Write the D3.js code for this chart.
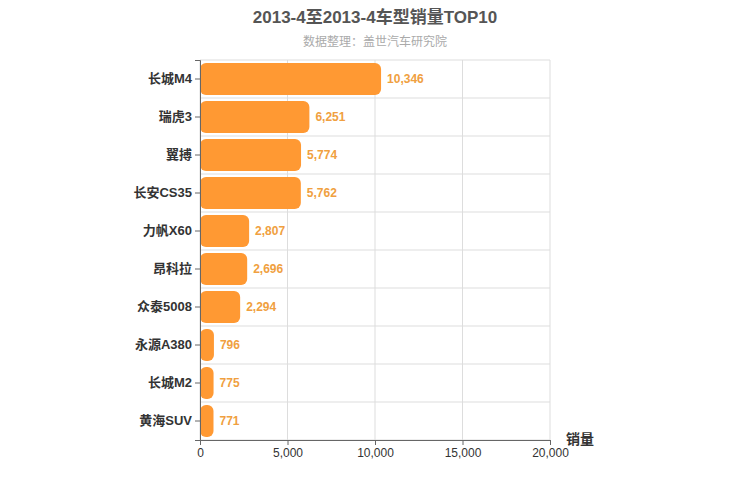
<!DOCTYPE html>
<html><head><meta charset="utf-8">
<script src="https://cdn.jsdelivr.net/npm/d3@7"></script>
<style>body{margin:0;} svg text{font-family:"Liberation Sans","Noto Sans CJK SC",sans-serif;}</style>
</head><body><svg id="chart" width="750" height="500"></svg>
<script>
const categories = ["长城M4","瑞虎3","翼搏","长安CS35","力帆X60","昂科拉","众泰5008","永源A380","长城M2","黄海SUV"];
const values = [10346,6251,5774,5762,2807,2696,2294,796,775,771];
const xTicks = [0,5000,10000,15000,20000];

const svg = d3.select("#chart");
const mLeft = 200, mRight = 550, mTop = 60, mBottom = 440;

const x = d3.scaleLinear().domain([0,20000]).range([mLeft,mRight]);
const y = d3.scaleBand().domain(categories).range([mTop,mBottom]).paddingInner(0.16).paddingOuter(0.08);
const fmt = d3.format(",");

// grid
svg.append("g").selectAll("line").data(xTicks).join("line")
    .attr("x1", d => x(d)).attr("x2", d => x(d)).attr("y1", mTop).attr("y2", mBottom)
    .attr("stroke", "#ddd");
const step = (mBottom - mTop) / categories.length;
svg.append("g").selectAll("line").data(d3.range(categories.length + 1)).join("line")
    .attr("x1", mLeft).attr("x2", mRight).attr("y1", i => mTop + i*step).attr("y2", i => mTop + i*step)
    .attr("stroke", "#ddd");

// bars
svg.append("g").selectAll("rect").data(values).join("rect")
    .attr("x", x(0)).attr("y", (d,i) => y(categories[i]))
    .attr("width", d => x(d) - x(0)).attr("height", y.bandwidth())
    .attr("rx", 6).attr("fill", "#ff9933");

svg.append("g").selectAll("text").data(values).join("text")
    .attr("x", d => x(d) + 6).attr("y", (d,i) => y(categories[i]) + y.bandwidth()/2)
    .attr("dy", "0.35em").attr("font-size", 12).attr("font-weight", "bold")
    .attr("fill", "#f0a040").text(d => fmt(d));

// axes
const yAxis = svg.append("g").attr("transform", `translate(${mLeft},0)`)
    .call(d3.axisLeft(y).tickSize(5));
yAxis.selectAll("text").attr("font-size", 13).attr("font-weight", "bold").attr("fill", "#333")
    .attr("font-family", null);
yAxis.select(".domain").attr("stroke", "#666");
yAxis.selectAll(".tick line").attr("stroke", "#666");

const xAxis = svg.append("g").attr("transform", `translate(0,${mBottom})`)
    .call(d3.axisBottom(x).tickValues(xTicks).tickFormat(fmt).tickSize(5));
xAxis.attr("font-family", null);
yAxis.attr("font-family", null);
xAxis.selectAll("text").attr("font-size", 12).attr("fill", "#333");
xAxis.select(".domain").attr("stroke", "#666");
xAxis.selectAll(".tick line").attr("stroke", "#666");

svg.append("text").attr("x", 580).attr("y", 444).attr("text-anchor", "middle")
    .attr("font-size", 14).attr("font-weight", "bold").attr("fill", "#333").text("销量");

svg.append("text").attr("x", 375).attr("y", 23).attr("text-anchor", "middle")
    .attr("font-size", 17).attr("font-weight", "bold").attr("fill", "#555").text("2013-4至2013-4车型销量TOP10");
svg.append("text").attr("x", 375).attr("y", 46).attr("text-anchor", "middle")
    .attr("font-size", 12).attr("fill", "#aaa").text("数据整理：盖世汽车研究院");
</script></body></html>
